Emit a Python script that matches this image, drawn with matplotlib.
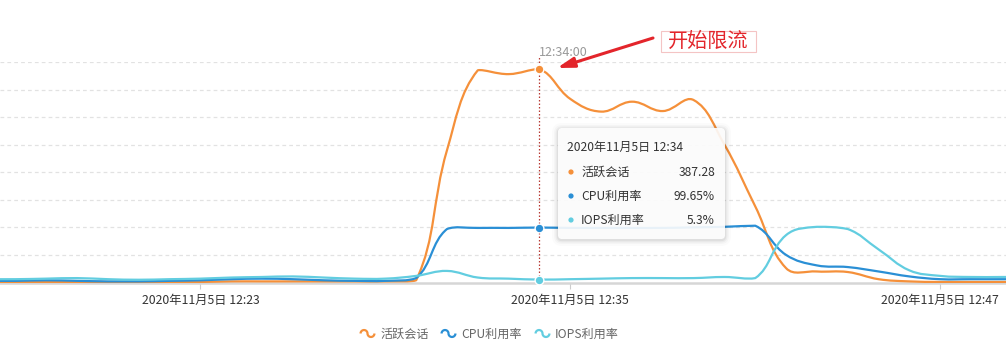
import numpy as np
import pandas as pd
import matplotlib
matplotlib.use("Agg")
import matplotlib.pyplot as plt
import matplotlib.dates as mdates
from matplotlib.path import Path
from matplotlib.patches import PathPatch, FancyBboxPatch, Circle, Rectangle
from matplotlib.lines import Line2D
from matplotlib.transforms import Affine2D

plt.rcParams['font.family'] = ['Noto Sans CJK SC', 'DejaVu Sans']

# ---------------- data ----------------
times = pd.date_range("2020-11-05 12:16", "2020-11-05 12:50", freq="1min")
sessions = [1, 1, 1, 1, 1, 1, 1, 1, 2, 2, 2, 2, 2, 2, 4, 240, 385, 378, 387.28,
            333, 310, 328, 311, 331, 250, 138, 26, 20, 19, 6, 2, 1, 1, 1, 1]
cpu = [3, 3, 4, 3, 2, 2, 3, 4, 6, 7, 6, 4, 3, 3, 8, 97, 99, 99, 99.65,
       99, 99, 99, 99, 100, 101, 103, 50, 31, 28, 20, 11, 6, 6, 6, 6]
iops = [6, 6, 7, 8, 6, 5, 6, 7, 9, 10, 11, 9, 7, 7, 12, 21, 9, 7, 5.3,
        6, 7, 8, 8, 8, 10, 8, 86, 101, 97, 60, 22, 12, 10, 10, 10]
series_names = ["活跃会话", "CPU利用率", "IOPS利用率"]
series_units = ["", "%", "%"]
series_colors = ["#f5903a", "#2a8fd5", "#62cde0"]
tick_times = ["2020-11-05 12:23", "2020-11-05 12:35", "2020-11-05 12:47"]
tick_labels = ["2020年11月5日 12:23", "2020年11月5日 12:35", "2020年11月5日 12:47"]
focus_time = "2020-11-05 12:34"
tooltip_title = "2020年11月5日 12:34"
time_label = "12:34:00"
annotation_text = "开始限流"
x_range = ["2020-11-05 12:16:30", "2020-11-05 12:49:08"]
y_range = [0, 400]
y_grid = [50, 100, 150, 200, 250, 300, 350, 400]

# ---------------- figure ----------------
W, H, DPI = 1006, 361, 100
fig = plt.figure(figsize=(W / DPI, H / DPI), dpi=DPI)
# pixel transform with top-left origin
pxT = Affine2D().scale(1, -1).translate(0, H).scale(1 / DPI) + fig.dpi_scale_trans

ax = fig.add_axes([0, 78.5 / H, 1, 220.5 / H])
ax.set_xlim(mdates.date2num(pd.Timestamp(x_range[0])), mdates.date2num(pd.Timestamp(x_range[1])))
ax.set_ylim(*y_range)
for s in ["top", "left", "right"]:
    ax.spines[s].set_visible(False)
ax.spines["bottom"].set_color("#d6d6d6")
ax.spines["bottom"].set_linewidth(1.8)
ax.set_yticks(y_grid)
ax.tick_params(axis="y", left=False, labelleft=False)
ax.yaxis.grid(True, color="#e2e2e2", linewidth=0.9, linestyle=(0, (3, 2.5)))
ax.set_axisbelow(True)
ax.set_xticks([mdates.date2num(pd.Timestamp(t)) for t in tick_times])
ax.set_xticklabels(tick_labels)
ax.tick_params(axis="x", length=4, width=0.8, color="#cccccc", pad=4,
               labelsize=8.8, labelcolor="#333333")

xnum = mdates.date2num(times.to_pydatetime())


def smooth_path(xd, yd, s=0.4):
    """Catmull-Rom style bezier smoothing with bounding-box constraint (display space)."""
    P = ax.transData.transform(np.column_stack([xd, yd]))
    pmin, pmax = P.min(axis=0), P.max(axis=0)
    n = len(P)
    verts = [P[0]]
    codes = [Path.MOVETO]
    cp0 = P[0].copy()
    for i in range(1, n):
        cur = P[i]
        prev = P[i - 1]
        if i == n - 1:
            cp1 = cur.copy()
            v = np.zeros(2)
            r = 0.5
        else:
            nxt = P[i + 1]
            v = nxt - prev
            lp = np.hypot(*(cur - prev))
            ln = np.hypot(*(nxt - cur))
            r = ln / (ln + lp)
            cp1 = cur - v * s * (1 - r)
        cp0c = np.clip(cp0, pmin, pmax)
        cp1c = np.clip(cp1, pmin, pmax)
        verts += [cp0c, cp1c, cur]
        codes += [Path.CURVE4] * 3
        cp0 = cur + v * s * r
    verts = ax.transData.inverted().transform(np.array(verts))
    return Path(verts, codes)


all_series = [sessions, cpu, iops]
for vals, col in zip(all_series, series_colors):
    patch = PathPatch(smooth_path(xnum, vals), facecolor="none", edgecolor=col,
                      linewidth=1.6, zorder=3, capstyle="round", joinstyle="round")
    ax.add_patch(patch)

# focus line and points
fx = mdates.date2num(pd.Timestamp(focus_time))
fi = list(times).index(pd.Timestamp(focus_time))
ax.plot([fx, fx], [0, 410], color="#b83a34", linewidth=0.9,
        linestyle=(0, (1.2, 1.6)), zorder=2, clip_on=False)
for vals, col in zip(all_series, series_colors):
    ax.plot([fx], [vals[fi]], "o", markersize=6.3, markerfacecolor=col,
            markeredgecolor="white", markeredgewidth=1.0, zorder=6, clip_on=False)

fig.text(539, 52, time_label, transform=pxT, ha="left", va="center",
         fontsize=9, color="#999999")

# ---------------- tooltip ----------------
bx0, by0, bx1, by1 = 558, 128, 725, 239
for k, a in zip([6, 4, 2.5, 1.2], [0.015, 0.025, 0.035, 0.05]):
    sh = FancyBboxPatch((bx0 - k, by0 - k + 1), (bx1 - bx0) + 2 * k, (by1 - by0) + 2 * k,
                        boxstyle="round,pad=0,rounding_size=%g" % (4 + k),
                        transform=pxT, facecolor="black", edgecolor="none",
                        alpha=a, zorder=7)
    fig.add_artist(sh)
box = FancyBboxPatch((bx0, by0), bx1 - bx0, by1 - by0, boxstyle="round,pad=0,rounding_size=4",
                     transform=pxT, facecolor="white", edgecolor="none", alpha=0.9, zorder=8)
fig.add_artist(box)
fig.text(567, 147, tooltip_title, transform=pxT, ha="left", va="center",
         fontsize=8.7, color="#333333", zorder=9)
row_y = [172, 196, 220]
for name, unit, vals, col, ry in zip(series_names, series_units, all_series, series_colors, row_y):
    fig.add_artist(Circle((571, ry), 2.6, transform=pxT, facecolor=col, edgecolor="none", zorder=9))
    fig.text(581, ry, name, transform=pxT, ha="left", va="center",
             fontsize=8.7, color="#333333", zorder=9)
    fig.text(715, ry, f"{vals[fi]:g}{unit}", transform=pxT, ha="right", va="center",
             fontsize=8.7, color="#333333", zorder=9)

# ---------------- annotation ----------------
fig.add_artist(Rectangle((661, 31), 95, 21, transform=pxT, facecolor="white",
                         edgecolor="#f4c4c4", linewidth=0.8, zorder=9))
fig.text(708, 41.5, annotation_text, transform=pxT, ha="center", va="center",
         fontsize=14.5, color="#e3252b", zorder=10)
ax.annotate("", xy=(557, H - 68), xycoords="figure pixels",
            xytext=(653, H - 38), textcoords="figure pixels",
            arrowprops=dict(arrowstyle="-|>,head_length=1.0,head_width=0.3",
                            color="#e3252b", linewidth=2.2, shrinkA=0, shrinkB=0),
            zorder=10, annotation_clip=False)

# ---------------- legend ----------------
a1 = np.linspace(np.pi, 0, 20)
a2 = np.linspace(np.pi, 2 * np.pi, 20)
wave_xy = np.vstack([np.column_stack([-0.5 + 0.5 * np.cos(a1), 0.5 * np.sin(a1)]),
                     np.column_stack([0.5 + 0.5 * np.cos(a2), 0.5 * np.sin(a2)])])
wave = Path(wave_xy)
handles = [Line2D([], [], linestyle="none", marker=wave, markersize=10,
                  markerfacecolor="none", markeredgecolor=c, markeredgewidth=1.6)
           for c in series_colors]
fig.legend(handles, series_names, loc="center", bbox_to_anchor=(490 / W, 1 - 334 / H),
           ncol=3, frameon=False, fontsize=8.7, labelcolor="#666666",
           handlelength=1.0, handletextpad=0.6, columnspacing=1.1)

fig.savefig("out.png", dpi=DPI)
